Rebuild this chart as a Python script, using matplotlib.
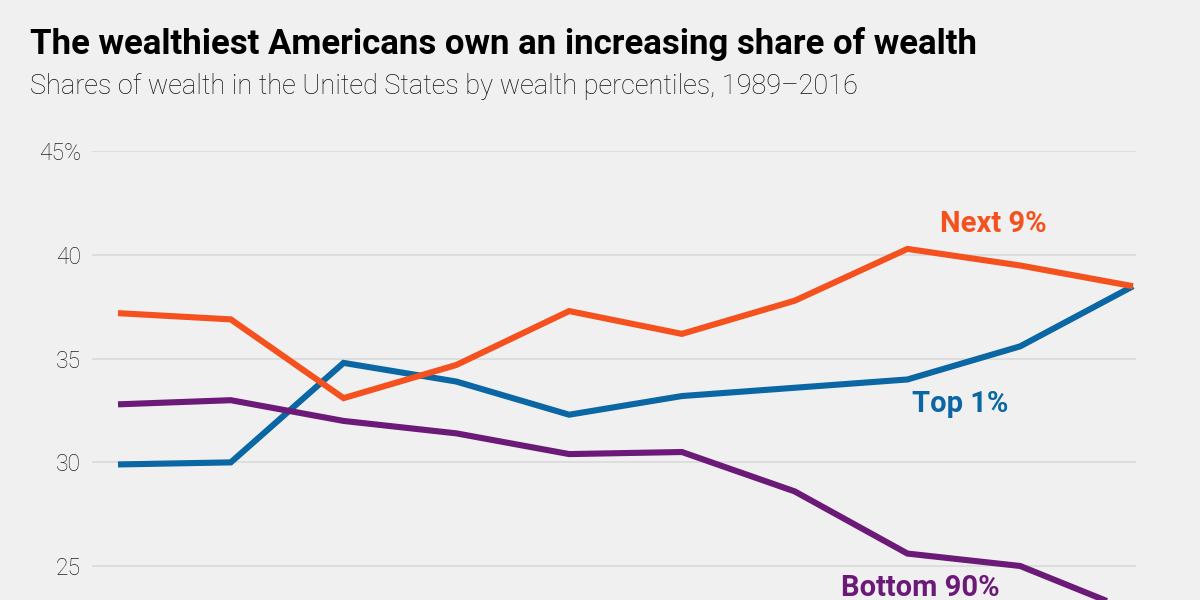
import matplotlib
matplotlib.use("Agg")
import matplotlib.pyplot as plt

years = [1989, 1992, 1995, 1998, 2001, 2004, 2007, 2010, 2013, 2016]
next9 = [37.2, 36.9, 33.1, 34.7, 37.3, 36.2, 37.8, 40.3, 39.5, 38.5]
top1 = [29.9, 30.0, 34.8, 33.9, 32.3, 33.2, 33.6, 34.0, 35.6, 38.5]
bottom90 = [32.8, 33.0, 32.0, 31.4, 30.4, 30.5, 28.6, 25.6, 25.0, 22.8]
yticks = [25, 30, 35, 40, 45]
ytick_labels = ["25", "30", "35", "40", "45%"]
series_names = ["Next 9%", "Top 1%", "Bottom 90%"]

bg = "#f0f0f0"
c_next = "#f4511e"
c_top = "#0a67a3"
c_bot = "#6b1a77"

W, H = 1200, 600
fig = plt.figure(figsize=(12, 6), dpi=100, facecolor=bg)
left, right = 92 / W, 1136 / W
top_px, bottom_px = 151.5, 600
ax = fig.add_axes([left, 1 - bottom_px / H, right - left, (bottom_px - top_px) / H])
ax.set_facecolor(bg)

ppu = (566 - 151.5) / 20
ax.set_ylim(25 - (600 - 566) / ppu, 45)
xppu = (1133 - 118) / 27
ax.set_xlim(1989 - (118 - 92) / xppu, 2016 + (1136 - 1133) / xppu)

for v in yticks:
    ax.axhline(v, color="#dcdcdc", lw=1.3, zorder=0)

lw = 4.4
ax.plot(years, next9, color=c_next, lw=lw, solid_capstyle="butt", solid_joinstyle="miter", zorder=3)
ax.plot(years, top1, color=c_top, lw=lw, solid_capstyle="butt", solid_joinstyle="miter", zorder=2)
ax.plot(years, bottom90, color=c_bot, lw=lw, solid_capstyle="butt", solid_joinstyle="miter", zorder=2)

for s in ax.spines.values():
    s.set_visible(False)
ax.set_xticks([])
ax.set_yticks(yticks)
ax.set_yticklabels(ytick_labels, fontfamily="Roboto", fontweight="light", fontsize=16.5, color="#222222")
ax.tick_params(axis="y", length=0, pad=8)

def px(xp, yp):
    return xp / W, 1 - yp / H

fig.text(*px(993, 224), series_names[0], color=c_next, fontfamily="Roboto", fontweight="bold",
         fontsize=21, ha="center", va="center")
fig.text(*px(960, 404), series_names[1], color=c_top, fontfamily="Roboto", fontweight="bold",
         fontsize=21, ha="center", va="center")
fig.text(*px(920, 588), series_names[2], color=c_bot, fontfamily="Roboto", fontweight="bold",
         fontsize=21, ha="center", va="center")

fig.text(*px(30, 44), "The wealthiest Americans own an increasing share of wealth",
         fontfamily="Roboto", fontweight="bold", fontsize=25, color="#000000", ha="left", va="center")
fig.text(*px(30, 87), "Shares of wealth in the United States by wealth percentiles, 1989–2016",
         fontfamily="Roboto", fontweight="light", fontsize=19.5, color="#111111", ha="left", va="center")

fig.savefig("out.png", dpi=100, facecolor=bg)
